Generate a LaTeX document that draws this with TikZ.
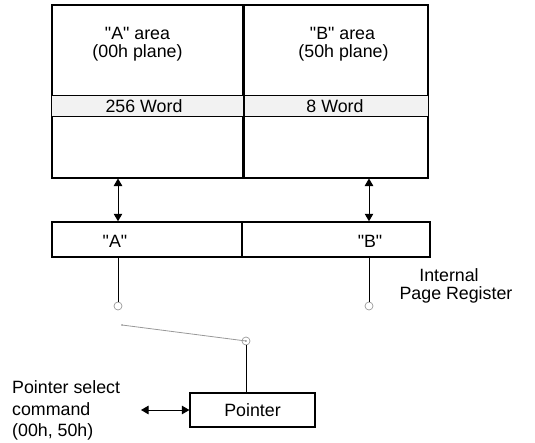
\documentclass[tikz,border=0pt]{standalone}
\usepackage{fontspec}
\setmainfont{Liberation Sans}
\usetikzlibrary{arrows.meta}
\begin{document}
\begin{tikzpicture}[x=1pt,y=-1pt,
  every node/.style={font=\fontsize{17.8}{21.5}\selectfont},
  cell/.style={draw,line width=1.5pt,inner sep=0pt},
  txt/.style={inner sep=0pt},
  sw/.style={circle,draw=gray!80,line width=0.7pt,minimum size=8pt,inner sep=0pt},
  conn/.style={line width=1pt},
  biarrow/.style={line width=1pt,{Triangle[length=7.5pt,width=8.5pt]}-{Triangle[length=7.5pt,width=8.5pt]}}]
\useasboundingbox (0,0) rectangle (535,442);
% top memory areas
\node[cell,minimum width=191pt,minimum height=173pt] (areaA) at (147.5,91.5) {};
\node[cell,minimum width=185pt,minimum height=173pt] (areaB) at (335.5,91.5) {};
\draw[line width=0.8pt,fill=black!5] (areaA.west |- 0,95.5) rectangle (areaB.east |- 0,116.5);
\draw[line width=1.5pt] (areaA.north east) -- (areaA.south east);
\node[txt] (tA1) at (137.5,33) {\textquotedbl A\textquotedbl{} area};
\node[txt] (tA2) at (137.5,53) {(00h plane)};
\node[txt] (tB1) at (342.5,33) {\textquotedbl B\textquotedbl{} area};
\node[txt] (tB2) at (343.5,53) {(50h plane)};
\node[txt] (wA) at (144,106) {256 Word};
\node[txt] (wB) at (335,106) {8 Word};
% register
\node[cell,minimum width=190pt,minimum height=35pt] (regA) at (147,239.5) {};
\node[cell,minimum width=188pt,minimum height=35pt] (regB) at (336,239.5) {};
\node[txt] at (115,241) {\textquotedbl A\textquotedbl};
\node[txt] at (370,241) {\textquotedbl B\textquotedbl};
\node[txt] (int1) at (449,275) {Internal};
\node[txt] (int2) at (456,295) {Page Register};
% switch contacts
\node[sw] (c1) at (118,306) {};
\node[sw] (c2) at (369,306) {};
\node[sw] (c3) at (246,341) {};
\coordinate (aTop) at (118,178.5);
\coordinate (bTop) at (369,178.5);
\draw[biarrow] (aTop) -- (aTop |- regA.north);
\draw[biarrow] (bTop) -- (bTop |- regB.north);
\draw[conn] (c1 |- regA.south) -- (c1);
\draw[conn] (c2 |- regB.south) -- (c2);
\coordinate (swEnd) at (122,325);
\fill (swEnd) circle (0.6pt);
\draw[gray!80,line width=0.8pt] (swEnd) -- (c3.center);
\fill (c3.center) circle (0.6pt);
% pointer
\node[draw,line width=1.2pt,minimum width=125pt,minimum height=34pt,inner sep=0pt] (ptr) at (252.5,410) {Pointer};
\draw[conn] (c3) -- (c3 |- ptr.north);
\coordinate (cmdR) at (141,410);
\draw[biarrow] (cmdR) -- (ptr.west);
\node[txt,align=left,anchor=west] (cmd) at (12,410.5) {Pointer select\\command\\(00h, 50h)};
\end{tikzpicture}
\end{document}
